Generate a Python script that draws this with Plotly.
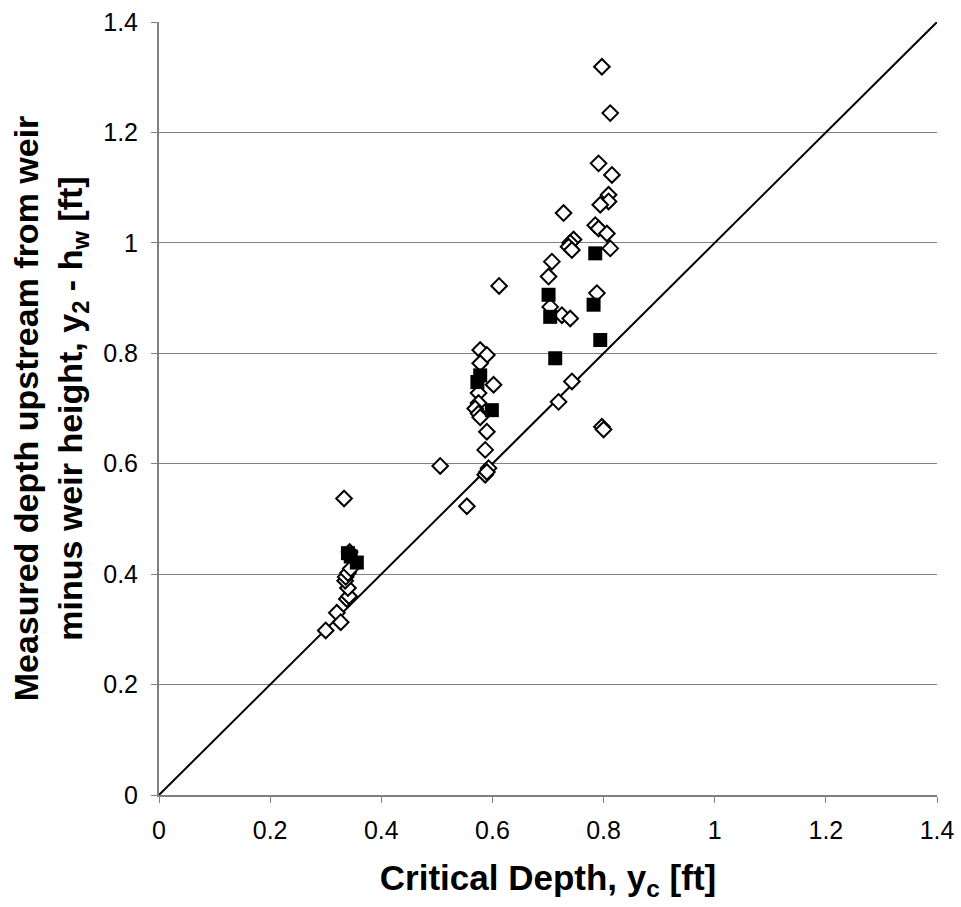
import plotly.graph_objects as go

# Open diamonds: measured data
diamond_x = [0.300, 0.320, 0.327, 0.338, 0.342, 0.340, 0.335, 0.336, 0.340, 0.345, 0.343, 0.333,
             0.506, 0.554,
             0.578, 0.590, 0.578, 0.602, 0.575, 0.575, 0.569, 0.575, 0.578, 0.590, 0.587,
             0.593, 0.587, 0.590, 0.612,
             0.797, 0.812, 0.791, 0.815, 0.809, 0.809, 0.794, 0.728, 0.785, 0.791, 0.806,
             0.746, 0.740, 0.737, 0.743, 0.812, 0.707, 0.701, 0.788, 0.704, 0.725, 0.740,
             0.743, 0.719, 0.797, 0.800]
diamond_y = [0.298, 0.330, 0.313, 0.355, 0.360, 0.375, 0.388, 0.395, 0.402, 0.410, 0.440, 0.537,
             0.596, 0.523,
             0.806, 0.797, 0.782, 0.743, 0.728, 0.710, 0.700, 0.691, 0.684, 0.658, 0.625,
             0.592, 0.580, 0.585, 0.922,
             1.319, 1.235, 1.144, 1.123, 1.087, 1.075, 1.069, 1.054, 1.032, 1.026, 1.017,
             1.006, 1.000, 0.993, 0.987, 0.990, 0.966, 0.939, 0.909, 0.884, 0.869, 0.863,
             0.749, 0.712, 0.667, 0.662]

# Filled squares: second data set
square_x = [0.340, 0.345, 0.356, 0.573, 0.578, 0.599, 0.785, 0.701, 0.782, 0.704, 0.794, 0.713]
square_y = [0.438, 0.432, 0.421, 0.748, 0.760, 0.697, 0.981, 0.906, 0.888, 0.866, 0.824, 0.791]

# 1:1 reference line
line_x = [0, 1.4]
line_y = [0, 1.4]

tick_vals = [0, 0.2, 0.4, 0.6, 0.8, 1, 1.2, 1.4]
tick_text = ["0", "0.2", "0.4", "0.6", "0.8", "1", "1.2", "1.4"]

fig = go.Figure()
fig.add_trace(go.Scatter(x=line_x, y=line_y, mode="lines",
                         line=dict(color="black", width=2), showlegend=False,
                         hoverinfo="skip"))
fig.add_trace(go.Scatter(x=diamond_x, y=diamond_y, mode="markers",
                         marker=dict(symbol="diamond", size=12, color="white",
                                     line=dict(color="black", width=2)),
                         showlegend=False))
fig.add_trace(go.Scatter(x=square_x, y=square_y, mode="markers",
                         marker=dict(symbol="square", size=14, color="black",
                                     line=dict(color="black", width=0)),
                         showlegend=False))

font_family = "Liberation Sans, Arial, sans-serif"
fig.update_layout(
    width=961, height=907,
    margin=dict(l=159, r=24, t=22, b=112),
    paper_bgcolor="white", plot_bgcolor="white",
    font=dict(family=font_family, color="black", size=25),
    xaxis=dict(range=[0, 1.4], tickvals=tick_vals, ticktext=tick_text,
               automargin=False,
               showgrid=False, zeroline=False,
               showline=True, linecolor="#808080", linewidth=2,
               ticks="outside", ticklen=6, tickcolor="#808080", tickwidth=1,
               ticklabelstandoff=6,
               tickfont=dict(size=25),
               title=dict(text="<b>Critical Depth, y<sub>c</sub> [ft]</b>",
                          font=dict(size=35), standoff=22)),
    yaxis=dict(range=[0, 1.4], tickvals=tick_vals, ticktext=tick_text,
               automargin=False,
               showgrid=True, gridcolor="#808080", gridwidth=1,
               zeroline=False,
               showline=True, linecolor="#808080", linewidth=2,
               ticks="outside", ticklen=6, tickcolor="#808080", tickwidth=1,
               ticklabelstandoff=8,
               tickfont=dict(size=25),
               title=dict(text="<b>Measured depth upstream from weir<br>minus weir height, y<sub>2</sub> - h<sub>w</sub> [ft]</b>",
                          font=dict(size=34), standoff=10)),
)

fig.write_html("out.html")
